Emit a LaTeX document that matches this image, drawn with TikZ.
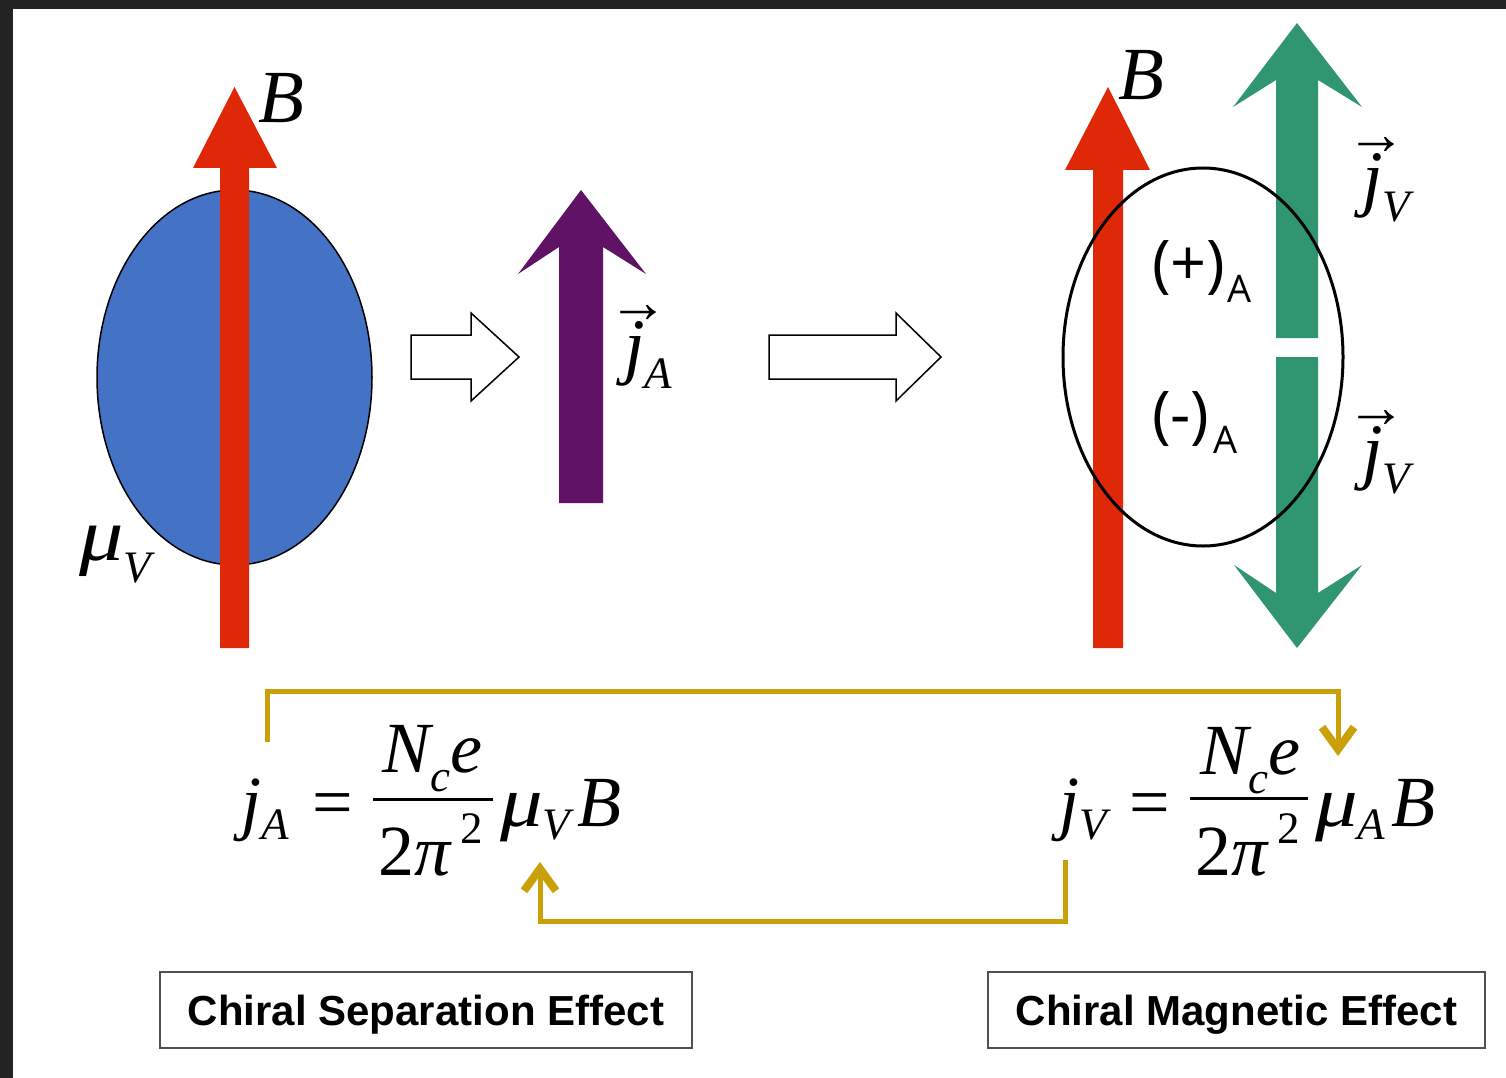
\documentclass[tikz,border=0pt]{standalone}
\usepackage{fontspec}
\usepackage{graphicx}
\setmainfont{Liberation Serif}
\newfontfamily\opensans{Open Sans}
\newfontfamily\sansf{Liberation Sans}
\usetikzlibrary{arrows.meta}
\newcommand\myfs[1]{\fontsize{#1}{#1}\selectfont}
\newcommand\vecj[1]{\rlap{\hspace{-16pt}\raisebox{48pt}{\upshape\myfs{60}→}}{\myfs{74}\itshape j}\raisebox{-18pt}{\myfs{45}\itshape #1}}
\newcommand\wmu{\scalebox{1.18}[1]{μ}}
\definecolor{framec}{RGB}{35,35,35}
\definecolor{blueF}{RGB}{68,114,196}
\definecolor{redc}{RGB}{222,40,8}
\definecolor{greenc}{RGB}{48,150,112}
\definecolor{purpc}{RGB}{96,18,100}
\definecolor{goldc}{RGB}{201,160,8}
\definecolor{boxc}{RGB}{80,80,80}
\begin{document}
\begin{tikzpicture}[x=1pt,y=-1pt,
  lab/.style={inner sep=0pt, outer sep=0pt},
  goldline/.style={draw=goldc, line width=5pt, line join=miter, -{Straight Barb[length=22pt,width=32pt,line width=8pt]}},
  boxst/.style={draw=boxc, line width=2pt, inner sep=0pt, text height=30pt, text depth=0pt, font=\sansf\bfseries\myfs{42}},
  hollow/.style={draw=black, line width=1.5pt, fill=white, line join=miter},
  fbar/.style={fill=black, inner sep=0pt, minimum height=3pt}]
\path[use as bounding box] (0,0) rectangle (1506,1078);
\fill[white] (0,0) rectangle (1506,1078);
\fill[framec] (0,0) rectangle (1506,9);
\fill[framec] (0,0) rectangle (13,1078);

% left: blue blob and B arrow
\draw[line width=1.5pt, fill=blueF] (234.5,377.5) ellipse [x radius=137.5pt, y radius=187.5pt];
\fill[redc] (220,648) -- (220,168) -- (193,168) -- (234.5,87) -- (277,168) -- (249,168) -- (249,648) -- cycle;
\node[lab, anchor=base west] (Bleft) at (258,123) {\myfs{75}\itshape B};
\node[lab, anchor=base west] (muV) at (79,560) {\myfs{75}\itshape \wmu\raisebox{-22pt}{\myfs{45}V}};

% hollow arrows
\draw[hollow] (411,335) -- (471,335) -- (471,313) -- (519,357) -- (471,401) -- (471,379) -- (411,379) -- cycle;
\draw[hollow] (769,335) -- (896,335) -- (896,313) -- (941,357) -- (896,401) -- (896,379) -- (769,379) -- cycle;

% purple j_A arrow
\fill[purpc] (559,503) -- (559,247) -- (518,274) -- (581,190) -- (646,274) -- (603,247) -- (603,503) -- cycle;
\node[lab, anchor=base west] (jAvec) at (624,370) {\vecj{A}};

% right: B arrow, green arrows, ellipse
\fill[redc] (1093,648) -- (1093,170) -- (1065,170) -- (1108,87) -- (1150,170) -- (1123,170) -- (1123,648) -- cycle;
\node[lab, anchor=base west] (Bright) at (1118,100) {\myfs{75}\itshape B};
\fill[greenc] (1276,338) -- (1276,80) -- (1233,107) -- (1297,23) -- (1362,107) -- (1318,80) -- (1318,338) -- cycle;
\fill[greenc] (1276,357) -- (1276,593) -- (1234,565) -- (1297,648) -- (1362,565) -- (1318,593) -- (1318,357) -- cycle;
\draw[line width=3pt] (1203,357) ellipse [x radius=140pt, y radius=189pt];
\node[lab, anchor=base west] (plusA) at (1152,285) {\opensans\myfs{63}(+)\raisebox{-17pt}{\myfs{38}\hspace{2pt}A}};
\node[lab, anchor=base west] (minusA) at (1152,436) {\opensans\myfs{63}(-)\raisebox{-17pt}{\myfs{38}\hspace{4pt}A}};
\node[lab, anchor=base west] (jVup) at (1362,203) {\vecj{V}};
\node[lab, anchor=base west] (jVdown) at (1362,475) {\vecj{V}};

% left equation
\node[lab, anchor=base west] (jAeq) at (241,826) {\myfs{72}\itshape j\raisebox{-13pt}{\myfs{45}A}};
\node[lab, anchor=base west] (eqL) at (312,826) {\myfs{72}=};
\node[lab, anchor=base west] (numL) at (382,772) {\myfs{72}\itshape N\raisebox{-19pt}{\myfs{45}c}e};
\node[fbar, minimum width=120pt] (barL) at (433,799) {};
\node[lab, anchor=base west] (denL) at (378,875) {\myfs{72}2\itshape π\upshape\hspace{10pt}\raisebox{32pt}{\myfs{45}2}};
\node[lab, anchor=base west] (muBL) at (500,826) {\myfs{72}\itshape \wmu\raisebox{-13pt}{\myfs{45}V}\hspace{7pt}B};

% right equation
\node[lab, anchor=base west] (jVeq) at (1059,826) {\myfs{72}\itshape j\raisebox{-13pt}{\myfs{45}V}};
\node[lab, anchor=base west] (eqR) at (1129,826) {\myfs{72}=};
\node[lab, anchor=base west] (numR) at (1200,774) {\myfs{72}\itshape N\raisebox{-19pt}{\myfs{45}c}e};
\node[fbar, minimum width=118pt] (barR) at (1249,798) {};
\node[lab, anchor=base west] (denR) at (1195,875) {\myfs{72}2\itshape π\upshape\hspace{10pt}\raisebox{32pt}{\myfs{45}2}};
\node[lab, anchor=base west] (muBR) at (1315,826) {\myfs{72}\itshape \wmu\raisebox{-13pt}{\myfs{45}A}\hspace{6pt}B};

% feedback connectors
\coordinate (csOut) at (267,742);
\coordinate (cmIn) at (1338,756);
\coordinate (railTop) at (0,691);
\coordinate (cmOut) at (1065,860);
\coordinate (csIn) at (540,862);
\coordinate (railBot) at (0,921);
\draw[goldline] (csOut) -- (csOut |- railTop) -- (cmIn |- railTop) -- (cmIn);
\draw[goldline] (cmOut) -- (cmOut |- railBot) -- (csIn |- railBot) -- (csIn);

% labels
\node[boxst, minimum width=532pt, minimum height=76pt] (cse) at (426,1010) {Chiral Separation Effect};
\node[boxst, minimum width=497pt, minimum height=76pt] (cme) at (1236.5,1010) {Chiral Magnetic Effect};
\end{tikzpicture}
\end{document}
